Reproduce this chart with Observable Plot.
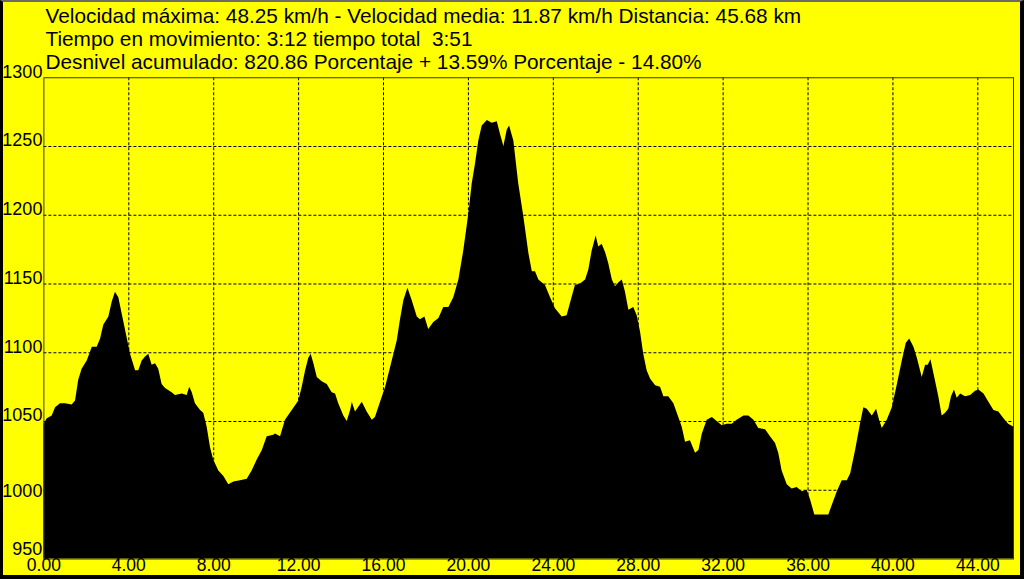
<!DOCTYPE html>
<html><head><meta charset="utf-8">
<script src="https://cdn.jsdelivr.net/npm/d3@7"></script>
<script src="https://cdn.jsdelivr.net/npm/@observablehq/plot@0.6"></script>
<style>
html,body{margin:0;padding:0;background:#000;}
#wrap{width:1024px;height:579px;box-sizing:border-box;background:#ffff00;border-left:3px solid #000;border-right:4px solid #000;border-bottom:4px solid #000;border-top:2px solid #6b6b6b;overflow:hidden}
#wrap svg{display:block}
svg text{white-space:pre}
</style></head><body><div id="wrap"></div>
<script>
// Distance along the route (km)
const km = [0,0.16,0.39,0.55,0.78,1.02,1.33,1.49,1.64,1.80,2.04,2.28,2.51,2.67,2.82,3.06,3.22,3.37,3.53,3.69,3.92,4.08,4.32,4.47,4.63,4.79,4.94,5.10,5.26,5.41,5.57,5.73,6.04,6.20,6.52,6.75,6.87,6.99,7.14,7.38,7.53,7.69,7.85,8.00,8.24,8.48,8.71,8.95,9.26,9.58,9.81,10.05,10.29,10.52,10.83,10.91,11.15,
11.38,11.70,12.01,12.17,12.33,12.48,12.59,12.72,12.88,13.11,13.35,13.58,13.74,13.89,14.13,14.29,14.45,14.53,14.68,15.00,15.23,15.47,15.62,15.86,16.10,16.41,16.65,16.80,16.96,17.15,17.35,17.59,17.74,17.95,18.13,18.37,18.61,18.84,19.08,19.31,19.55,19.78,20.02,20.18,20.33,20.49,20.65,20.89,21.12,21.36,21.51,21.67,21.83,21.94,22.14,22.37,22.61,22.85,23.01,
23.16,23.32,23.63,23.87,24.10,24.42,24.65,24.81,25.04,25.28,25.52,25.67,25.83,26.02,26.14,26.30,26.46,26.61,26.78,26.93,27.09,27.25,27.40,27.56,27.79,27.95,28.11,28.26,28.42,28.58,28.82,29.05,29.21,29.44,29.68,29.84,30.07,30.23,30.46,30.70,30.86,31.02,31.25,31.49,31.72,31.96,32.19,32.43,32.66,32.98,33.21,33.45,33.68,34.00,34.23,
34.47,34.62,34.78,35.02,35.25,35.49,35.72,35.96,36.12,36.32,36.51,36.74,36.98,37.14,37.38,37.61,37.85,38.01,38.24,38.47,38.63,38.79,39.03,39.23,39.37,39.50,39.73,39.97,40.21,40.44,40.63,40.79,40.99,41.15,41.38,41.54,41.66,41.79,41.97,42.16,42.32,42.48,42.63,42.76,42.90,43.03,43.19,43.42,43.66,43.89,44.05,44.29,44.52,44.76,44.99,45.23,45.45,45.68];

// Elevation (m)
const elev = [1048,1052,1054,1060,1063,1063,1062,1065,1080,1088,1094,1104,1104,1110,1120,1126,1137,1144,1140,1128,1111,1099,1087,1087,1094,1097,1099,1091,1092,1088,1077,1074,1071,1069,1070,1069,1075,1071,1063,1058,1056,1046,1031,1022,1014,1010,1004,1006,1007,1008,1014,1022,1029,1039,1040,1041,1039,
1051,1058,1065,1075,1087,1096,1099,1092,1082,1079,1077,1071,1070,1063,1054,1050,1058,1064,1057,1064,1057,1051,1053,1064,1075,1094,1109,1124,1138,1147,1138,1126,1124,1126,1117,1122,1125,1133,1133,1140,1153,1174,1201,1223,1237,1254,1265,1269,1267,1268,1259,1250,1262,1265,1254,1223,1199,1172,1159,
1159,1153,1149,1140,1132,1126,1127,1136,1149,1150,1153,1160,1174,1185,1177,1179,1173,1165,1153,1148,1151,1153,1144,1131,1133,1127,1115,1099,1087,1081,1076,1075,1068,1068,1063,1056,1046,1035,1036,1027,1029,1041,1051,1053,1050,1047,1048,1048,1051,1054,1054,1051,1045,1044,1039,
1034,1027,1014,1004,1001,1002,999,1000,993,982,982,982,982,989,999,1007,1007,1012,1029,1048,1060,1059,1054,1059,1051,1045,1051,1060,1077,1094,1107,1110,1104,1096,1082,1091,1091,1095,1082,1068,1054,1056,1059,1068,1073,1067,1070,1068,1069,1072,1073,1070,1064,1058,1057,1052,1048,1046];

const xTicks = [0,4,8,12,16,20,24,28,32,36,40,44];
const yTicks = [950,1000,1050,1100,1150,1200,1250,1300];
const infoLines = [
  "Velocidad máxima: 48.25 km/h - Velocidad media: 11.87 km/h Distancia: 45.68 km",
  "Tiempo en movimiento: 3:12 tiempo total  3:51",
  "Desnivel acumulado: 820.86 Porcentaje + 13.59% Porcentaje - 14.80%"
];

const data = km.map((d, i) => ({km: d, elev: elev[i]}));
const font = "Arial, 'Liberation Sans', sans-serif";
const yLab = (ticks, dy) => Plot.text(ticks, {y: d => d, text: d => String(d), frameAnchor: "left", textAnchor: "end", lineAnchor: "middle", dx: -1.5, dy, fontSize: 18, fill: "#000"});

const plot = Plot.plot({
  width: 1017, height: 573,
  marginLeft: 40.4, marginRight: 7, marginTop: 75.25, marginBottom: 16.5,
  style: {background: "transparent", fontFamily: font, color: "#000", overflow: "visible"},
  x: {domain: [0, 45.68], axis: null},
  y: {domain: [950, 1300], axis: null},
  marks: [
    Plot.ruleX(xTicks.filter(d => d > 0), {stroke: "#000", strokeWidth: 1, strokeDasharray: "3,2"}),
    Plot.ruleY(yTicks.filter(d => d > 950 && d < 1300), {stroke: "#000", strokeWidth: 1, strokeDasharray: "3,2"}),
    Plot.areaY(data, {x: "km", y1: 950, y2: "elev", fill: "#000"}),
    Plot.frame({stroke: "#3a3a10"}),
    Plot.text(xTicks, {x: d => d, text: d => d.toFixed(2), frameAnchor: "bottom", lineAnchor: "top", dy: 0, fontSize: 17.5, fill: "#000"}),
    yLab(yTicks.filter(d => d >= 1050), -6),
    yLab([1000], 1),
    yLab([950], -10),
    Plot.text([infoLines.join("\n")], {text: d => d, frameAnchor: "top-left", textAnchor: "start", lineAnchor: "bottom", lineHeight: 1.1, dx: 1.6, dy: -8.75, fontSize: 20.8, fill: "#000"})
  ]
});
document.getElementById("wrap").appendChild(plot);
</script>
</body></html>
